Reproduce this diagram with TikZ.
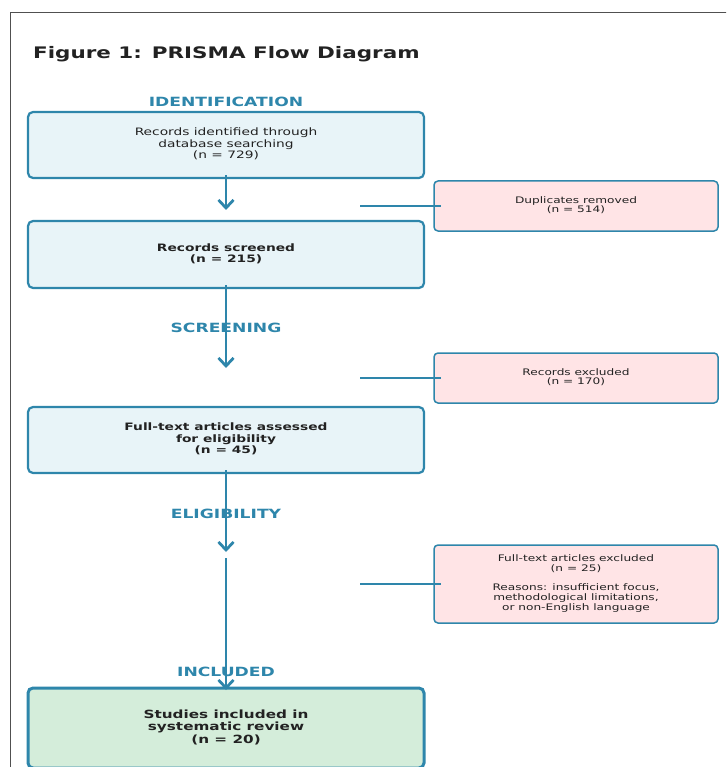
\documentclass[tikz,border=0pt]{standalone}
\usepackage{fontspec}
\usepackage{graphicx}
\setmainfont{DejaVu Sans}
\usetikzlibrary{arrows.meta}
\definecolor{prblue}{RGB}{46,134,171}
\definecolor{boxblue}{RGB}{232,244,248}
\definecolor{boxpink}{RGB}{255,228,230}
\definecolor{boxgreen}{RGB}{212,237,218}
\definecolor{txtdark}{RGB}{34,34,34}
\definecolor{framegray}{RGB}{80,80,80}
\newcommand{\sx}[1]{\scalebox{1.35}[1]{#1}}
\newcommand{\mainsz}{\fontsize{10.2}{11.5}\selectfont}
\newcommand{\sidesz}{\fontsize{9}{9.6}\selectfont}
\newcommand{\finsz}{\fontsize{11.3}{12.5}\selectfont}
\tikzset{
  mainbox/.style={draw=prblue, fill=boxblue, line width=2.2pt, rounded corners=5pt,
    minimum width=396pt, inner sep=0pt, text=txtdark},
  sidebox/.style={draw=prblue, fill=boxpink, line width=1.5pt, rounded corners=4pt,
    minimum width=284pt, inner sep=0pt, text=txtdark},
  finalbox/.style={draw=prblue, fill=boxgreen, line width=3pt, rounded corners=5pt,
    minimum width=396pt, minimum height=80pt, inner sep=0pt, text=txtdark},
  phase/.style={text=prblue, font=\bfseries\fontsize{12.7}{14}\selectfont, inner sep=0pt},
  flowarrow/.style={draw=prblue, line width=2.8pt, -{Straight Barb[length=8pt,width=15pt,line width=2.8pt]}},
  sideline/.style={draw=prblue, line width=1.4pt},
}
\begin{document}
\begin{tikzpicture}[x=1pt,y=-1pt]
\useasboundingbox (0,0) rectangle (726,767);
\clip (0,0) rectangle (726,767);
\draw[framegray, line width=1pt] (10,780) -- (10,12.5) -- (740,12.5);

\node[anchor=west, inner sep=0pt, text=txtdark] (title) at (33,54)
  {\sx{\bfseries\fontsize{15.9}{18}\selectfont Figure 1: PRISMA Flow Diagram}};

% phase labels
\node[phase] (lid) at (226,102) {\sx{IDENTIFICATION}};
\node[phase] (lsc) at (226,328) {\sx{SCREENING}};
\node[phase] (lel) at (226,514) {\sx{ELIGIBILITY}};
\node[phase] (lin) at (226,672) {\sx{INCLUDED}};

% main boxes
\node[mainbox, minimum height=66pt] (b1) at (226,145)
  {\sx{\mainsz\begin{tabular}{@{}c@{}}Records identified through\\database searching\\(n = 729)\end{tabular}}};
\node[mainbox, minimum height=67pt] (b2) at (226,254.5)
  {\sx{\mainsz\bfseries\begin{tabular}{@{}c@{}}Records screened\\(n = 215)\end{tabular}}};
\node[mainbox, minimum height=66pt] (b3) at (226,440)
  {\sx{\mainsz\bfseries\begin{tabular}{@{}c@{}}Full-text articles assessed\\for eligibility\\(n = 45)\end{tabular}}};
\node[finalbox] (b4) at (226,728)
  {\sx{\finsz\bfseries\begin{tabular}{@{}c@{}}Studies included in\\systematic review\\(n = 20)\end{tabular}}};

% side boxes
\node[sidebox, minimum height=50pt] (s1) at (576,206)
  {\sx{\sidesz\begin{tabular}{@{}c@{}}Duplicates removed\\(n = 514)\end{tabular}}};
\node[sidebox, minimum height=50pt] (s2) at (576,378)
  {\sx{\sidesz\begin{tabular}{@{}c@{}}Records excluded\\(n = 170)\end{tabular}}};
\node[sidebox, minimum height=78pt] (s3) at (576,584)
  {\sx{\sidesz\begin{tabular}{@{}c@{}}Full-text articles excluded\\(n = 25)\\[9.6pt]Reasons: insufficient focus,\\methodological limitations,\\or non-English language\end{tabular}}};

% arrow end points
\coordinate (e1) at (226,210);
\coordinate (e2) at (226,368);
\coordinate (e3) at (226,552);
\coordinate (m3) at (226,558);
\coordinate (e4) at (226,690);
\coordinate (c1) at (360,206);
\coordinate (c2) at (360,378);
\coordinate (c3) at (360,584);

\draw[flowarrow] ([yshift=4pt]b1.south) -- (e1);
\draw[flowarrow] ([yshift=4pt]b2.south) -- (e2);
\draw[flowarrow] ([yshift=4pt]b3.south) -- (e3);
\draw[flowarrow] (m3) -- (e4);

\draw[sideline] (c1) -- ([xshift=8pt]s1.west);
\draw[sideline] (c2) -- ([xshift=8pt]s2.west);
\draw[sideline] (c3) -- ([xshift=8pt]s3.west);
\end{tikzpicture}
\end{document}
